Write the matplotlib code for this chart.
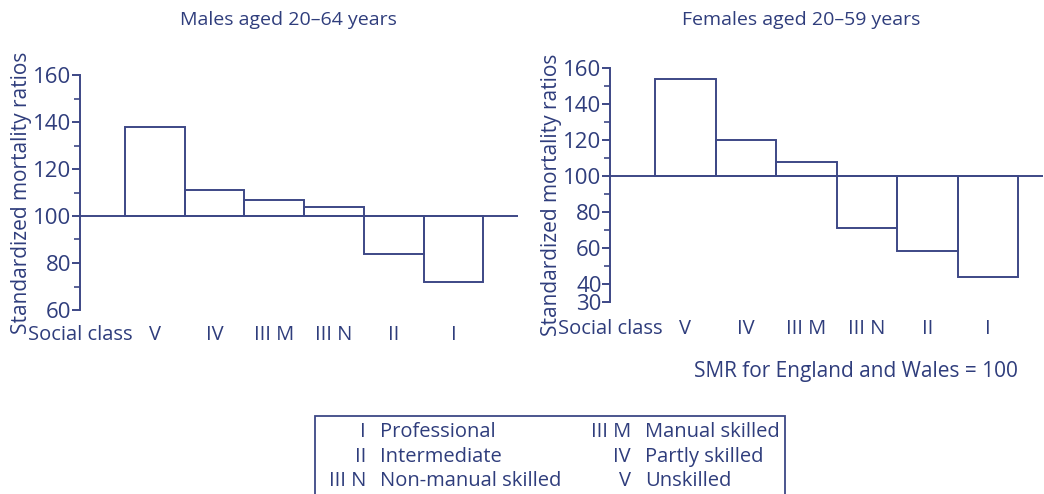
import numpy as np
import matplotlib.pyplot as plt
from matplotlib.patches import Rectangle

plt.rcParams['font.family'] = ['Open Sans', 'DejaVu Sans']

# standardized mortality ratios by social class (SMR, England and Wales = 100)
classes = ['V', 'IV', 'III M', 'III N', 'II', 'I']
smr_males = [138, 111, 107, 104, 84, 72]
smr_females = [154, 120, 108, 71, 58, 44]

legend_left = ['I', 'II', 'III N']
legend_left_desc = ['Professional', 'Intermediate', 'Non-manual skilled']
legend_right = ['III M', 'IV', 'V']
legend_right_desc = ['Manual skilled', 'Partly skilled', 'Unskilled']

ink = '#2f3d7c'
line_c = '#3d4886'
W, H = 1044, 494

fig = plt.figure(figsize=(W / 100, H / 100), dpi=100)


def panel(rect, values, ylim, yticks, minor, xlim, lab_px):
    ax = fig.add_axes(rect)
    x = np.arange(len(values))
    vals = np.array(values)
    ax.bar(x, vals - 100, bottom=100, width=1, align='edge',
           fill=False, edgecolor=line_c, linewidth=1.4)
    ax.axhline(100, color=line_c, linewidth=1.4)
    ax.set_xlim(*xlim)
    ax.set_ylim(*ylim)
    for s in ['top', 'right', 'bottom']:
        ax.spines[s].set_visible(False)
    ax.spines['left'].set_color(line_c)
    ax.spines['left'].set_linewidth(1.4)
    ax.set_yticks(yticks)
    ax.set_yticks(minor, minor=True)
    ax.tick_params(axis='y', which='major', length=6, width=1.4, color=line_c,
                   labelsize=16, labelcolor=ink, pad=0)
    ax.tick_params(axis='y', which='minor', length=4, width=1.2, color=line_c)
    # class labels sit on one line with "Social class", lab_px below the axis
    ax.set_xticks(x + 0.5)
    ax.set_xticklabels(classes, va='center')
    ax.tick_params(axis='x', length=0, labelsize=14.5, labelcolor=ink,
                   pad=lab_px * 0.72)
    h_px = rect[3] * H
    ax.text(0.13, -lab_px / h_px, 'Social class', transform=ax.get_xaxis_transform(),
            ha='right', va='center', fontsize=14.5, color=ink)
    ax.set_ylabel('Standardized mortality ratios', fontsize=15, color=ink, labelpad=0)
    return ax


ax1 = panel([80 / W, (H - 310) / H, 438 / W, 235 / H], smr_males,
            (60, 160), [60, 80, 100, 120, 140, 160], np.arange(70, 160, 20),
            (-0.754, 6.58), 25)
ax2 = panel([610 / W, (H - 301.7) / H, 433 / W, 233.4 / H], smr_females,
            (30, 160), [30, 40, 60, 80, 100, 120, 140, 160], np.arange(50, 160, 20),
            (-0.744, 6.41), 27)
ax1.yaxis.set_label_coords(-48 / 438, 0.5)
ax2.yaxis.set_label_coords(-48 / 433, 0.46)

fig.text(288 / W, 1 - 20 / H, 'Males aged 20\u201364 years',
         ha='center', va='center', fontsize=14, color=ink)
fig.text(801 / W, 1 - 20 / H, 'Females aged 20\u201359 years',
         ha='center', va='center', fontsize=14, color=ink)
fig.text(1018 / W, 1 - 371 / H, 'SMR for England and Wales = 100',
         ha='right', va='center', fontsize=15, color=ink)

# key to the social classes
fig.patches.append(Rectangle((315 / W, -0.05), 470 / W, 0.05 + (H - 416) / H,
                             transform=fig.transFigure, fill=False,
                             edgecolor=line_c, linewidth=1.3))
rows_y = [432, 457, 481]
for i in range(3):
    y = 1 - rows_y[i] / H
    fig.text(366 / W, y, legend_left[i], ha='right', va='center', fontsize=14.5, color=ink)
    fig.text(380 / W, y, legend_left_desc[i], ha='left', va='center', fontsize=14.5, color=ink)
    fig.text(631 / W, y, legend_right[i], ha='right', va='center', fontsize=14.5, color=ink)
    fig.text(645 / W, y, legend_right_desc[i], ha='left', va='center', fontsize=14.5, color=ink)

fig.savefig('out.png', dpi=100)
